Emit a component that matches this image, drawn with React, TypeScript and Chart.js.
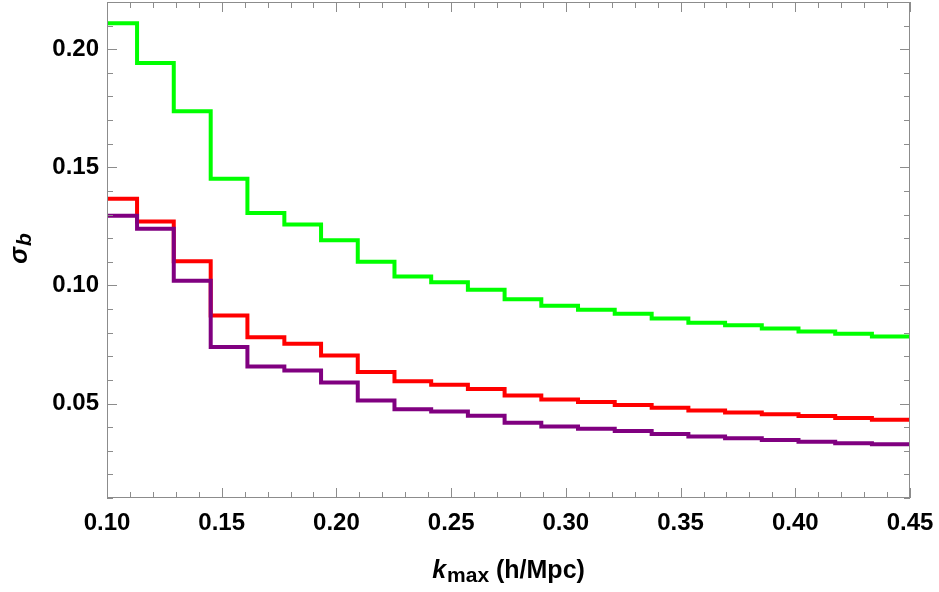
import React, { useEffect, useRef } from "react";
import { Chart, registerables } from "chart.js";

Chart.register(...registerables);

// k values where each step level begins (h/Mpc)
const kStart = [
  0.1, 0.1131, 0.1291, 0.1452, 0.1612, 0.1773, 0.1933, 0.2093, 0.2253, 0.2413, 0.2573,
  0.2733, 0.2893, 0.3053, 0.3213, 0.3374, 0.3534, 0.3694, 0.3854, 0.4014, 0.4174, 0.4334,
];
const kEnd = 0.45;

const sigmaGreen = [
  0.211, 0.1942, 0.1737, 0.1452, 0.1307, 0.1258, 0.1191, 0.11, 0.1038, 0.1013, 0.0982,
  0.0942, 0.0914, 0.0897, 0.088, 0.086, 0.0842, 0.0831, 0.0818, 0.0805, 0.0795, 0.0784,
];
const sigmaRed = [
  0.1367, 0.1271, 0.1102, 0.0873, 0.0781, 0.0753, 0.0703, 0.0633, 0.0594, 0.0579, 0.0561,
  0.0534, 0.0517, 0.0506, 0.0494, 0.0482, 0.047, 0.0462, 0.0455, 0.0447, 0.0439, 0.0431,
];
const sigmaPurple = [
  0.1295, 0.124, 0.102, 0.0739, 0.0657, 0.064, 0.0589, 0.0513, 0.0476, 0.0466, 0.0448,
  0.0419, 0.0403, 0.0393, 0.0384, 0.0371, 0.036, 0.0353, 0.0346, 0.0338, 0.0332, 0.0328,
];

const xTicks = [0.1, 0.15, 0.2, 0.25, 0.3, 0.35, 0.4, 0.45];
const yTicks = [0.05, 0.1, 0.15, 0.2];
const xMin = 0.1;
const xMax = 0.45;
const yMin = 0.01;
const yMax = 0.22;
const minorStep = 0.01;

const FONT = "'Liberation Sans', Arial, Helvetica, sans-serif";

function toPoints(values: number[]) {
  const pts = values.map((v, i) => ({ x: kStart[i], y: v }));
  pts.push({ x: kEnd, y: values[values.length - 1] });
  return pts;
}

function minorValues(min: number, max: number, step: number) {
  const out: number[] = [];
  const n = Math.round((max - min) / step);
  for (let i = 0; i <= n; i++) out.push(Math.round((min + i * step) * 1000) / 1000);
  return out;
}

const framePlugin = {
  id: "mmaFrame",
  afterDatasetsDraw(chart: any) {
    const { ctx, chartArea } = chart;
    const xs = chart.scales.x;
    const ys = chart.scales.y;
    const { left, right, top, bottom } = chartArea;
    ctx.save();
    ctx.strokeStyle = "#8c8c8c";
    ctx.lineWidth = 1;
    ctx.strokeRect(left + 0.5, top + 0.5, right - left - 1, bottom - top - 1);
    const isMajor = (v: number, majors: number[]) => majors.some((m) => Math.abs(m - v) < 1e-6);
    ctx.beginPath();
    for (const v of minorValues(xMin, xMax, minorStep)) {
      const len = isMajor(v, xTicks) ? 10 : 6;
      const px = Math.round(xs.getPixelForValue(v)) + 0.5;
      ctx.moveTo(px, bottom);
      ctx.lineTo(px, bottom - len);
      ctx.moveTo(px, top);
      ctx.lineTo(px, top + len);
    }
    for (const v of minorValues(yMin, yMax, minorStep)) {
      const len = isMajor(v, yTicks) ? 10 : 6;
      const py = Math.round(ys.getPixelForValue(v)) + 0.5;
      ctx.moveTo(left, py);
      ctx.lineTo(left + len, py);
      ctx.moveTo(right, py);
      ctx.lineTo(right - len, py);
    }
    ctx.stroke();
    ctx.restore();
  },
  afterDraw(chart: any) {
    const { ctx, chartArea } = chart;
    ctx.save();
    ctx.fillStyle = "#000";
    ctx.textBaseline = "alphabetic";
    ctx.textAlign = "left";
    // x title: k_max (h/Mpc)
    const fMain = `bold 25px ${FONT}`;
    const fItal = `italic bold 25px ${FONT}`;
    const fSub = `bold 21px ${FONT}`;
    const fSubItal = `italic bold 21px ${FONT}`;
    ctx.font = fItal;
    const wk = ctx.measureText("k").width;
    ctx.font = fSub;
    const wmax = ctx.measureText("max").width;
    ctx.font = fMain;
    const wrest = ctx.measureText(" (h/Mpc)").width;
    const total = wk + 1 + wmax + wrest;
    const cx = (chartArea.left + chartArea.right) / 2;
    let x0 = cx - total / 2;
    const base = 578;
    ctx.font = fItal;
    ctx.fillText("k", x0, base);
    x0 += wk + 1;
    ctx.font = fSub;
    ctx.fillText("max", x0, base + 4);
    x0 += wmax;
    ctx.font = fMain;
    ctx.fillText(" (h/Mpc)", x0, base);

    // y title: sigma_b
    ctx.font = fItal;
    const ws = ctx.measureText("σ").width;
    ctx.font = fSubItal;
    const wb = ctx.measureText("b").width;
    const ytot = ws + 1 + wb;
    const cy = (chartArea.top + chartArea.bottom) / 2 - 1.5;
    ctx.translate(27, cy + ytot / 2);
    ctx.rotate(-Math.PI / 2);
    ctx.font = fItal;
    ctx.fillText("σ", 0, 0);
    ctx.font = fSubItal;
    ctx.fillText("b", ws + 1, 4);
    ctx.restore();
  },
};

export default function App() {
  const canvasRef = useRef<HTMLCanvasElement | null>(null);

  useEffect(() => {
    const canvas = canvasRef.current;
    if (!canvas) return;
    const tickFont = { family: FONT, size: 24, weight: "bold" as const };
    const chart = new Chart(canvas, {
      type: "line",
      data: {
        datasets: [
          { data: toPoints(sigmaPurple), borderColor: "#800080" },
          { data: toPoints(sigmaRed), borderColor: "#ff0000" },
          { data: toPoints(sigmaGreen), borderColor: "#00ff00" },
        ].map((d) => ({
          ...d,
          stepped: "before" as const,
          borderWidth: 4,
          pointRadius: 0,
          fill: false,
          borderJoinStyle: "miter" as const,
          borderCapStyle: "butt" as const,
        })),
      },
      options: {
        animation: false,
        responsive: false,
        layout: { padding: { left: 0, right: 29, top: 2, bottom: 0 } },
        plugins: { legend: { display: false }, tooltip: { enabled: false } },
        scales: {
          x: {
            type: "linear",
            min: xMin,
            max: xMax,
            grid: { display: false, drawTicks: false },
            border: { display: false },
            afterBuildTicks: (s: any) => {
              s.ticks = xTicks.map((v) => ({ value: v }));
            },
            ticks: {
              callback: (v: any) => Number(v).toFixed(2),
              font: tickFont,
              color: "#000",
              padding: 11,
              maxRotation: 0,
              autoSkip: false,
            },
            afterFit: (s: any) => {
              s.height = 94;
              s.paddingLeft = 0;
              s.paddingRight = 0;
            },
          },
          y: {
            type: "linear",
            min: yMin,
            max: yMax,
            grid: { display: false, drawTicks: false },
            border: { display: false },
            afterBuildTicks: (s: any) => {
              s.ticks = yTicks.map((v) => ({ value: v }));
            },
            ticks: {
              callback: (v: any) => Number(v).toFixed(2),
              font: tickFont,
              color: "#000",
              padding: 8,
              autoSkip: false,
            },
            afterFit: (s: any) => {
              s.width = 107;
              s.paddingTop = 0;
              s.paddingBottom = 0;
            },
          },
        },
      },
      plugins: [framePlugin],
    });
    return () => chart.destroy();
  }, []);

  return (
    <div style={{ position: "fixed", left: 0, top: 0, width: 939, height: 592, background: "#fff" }}>
      <canvas ref={canvasRef} width={939} height={592} style={{ display: "block" }} />
    </div>
  );
}
